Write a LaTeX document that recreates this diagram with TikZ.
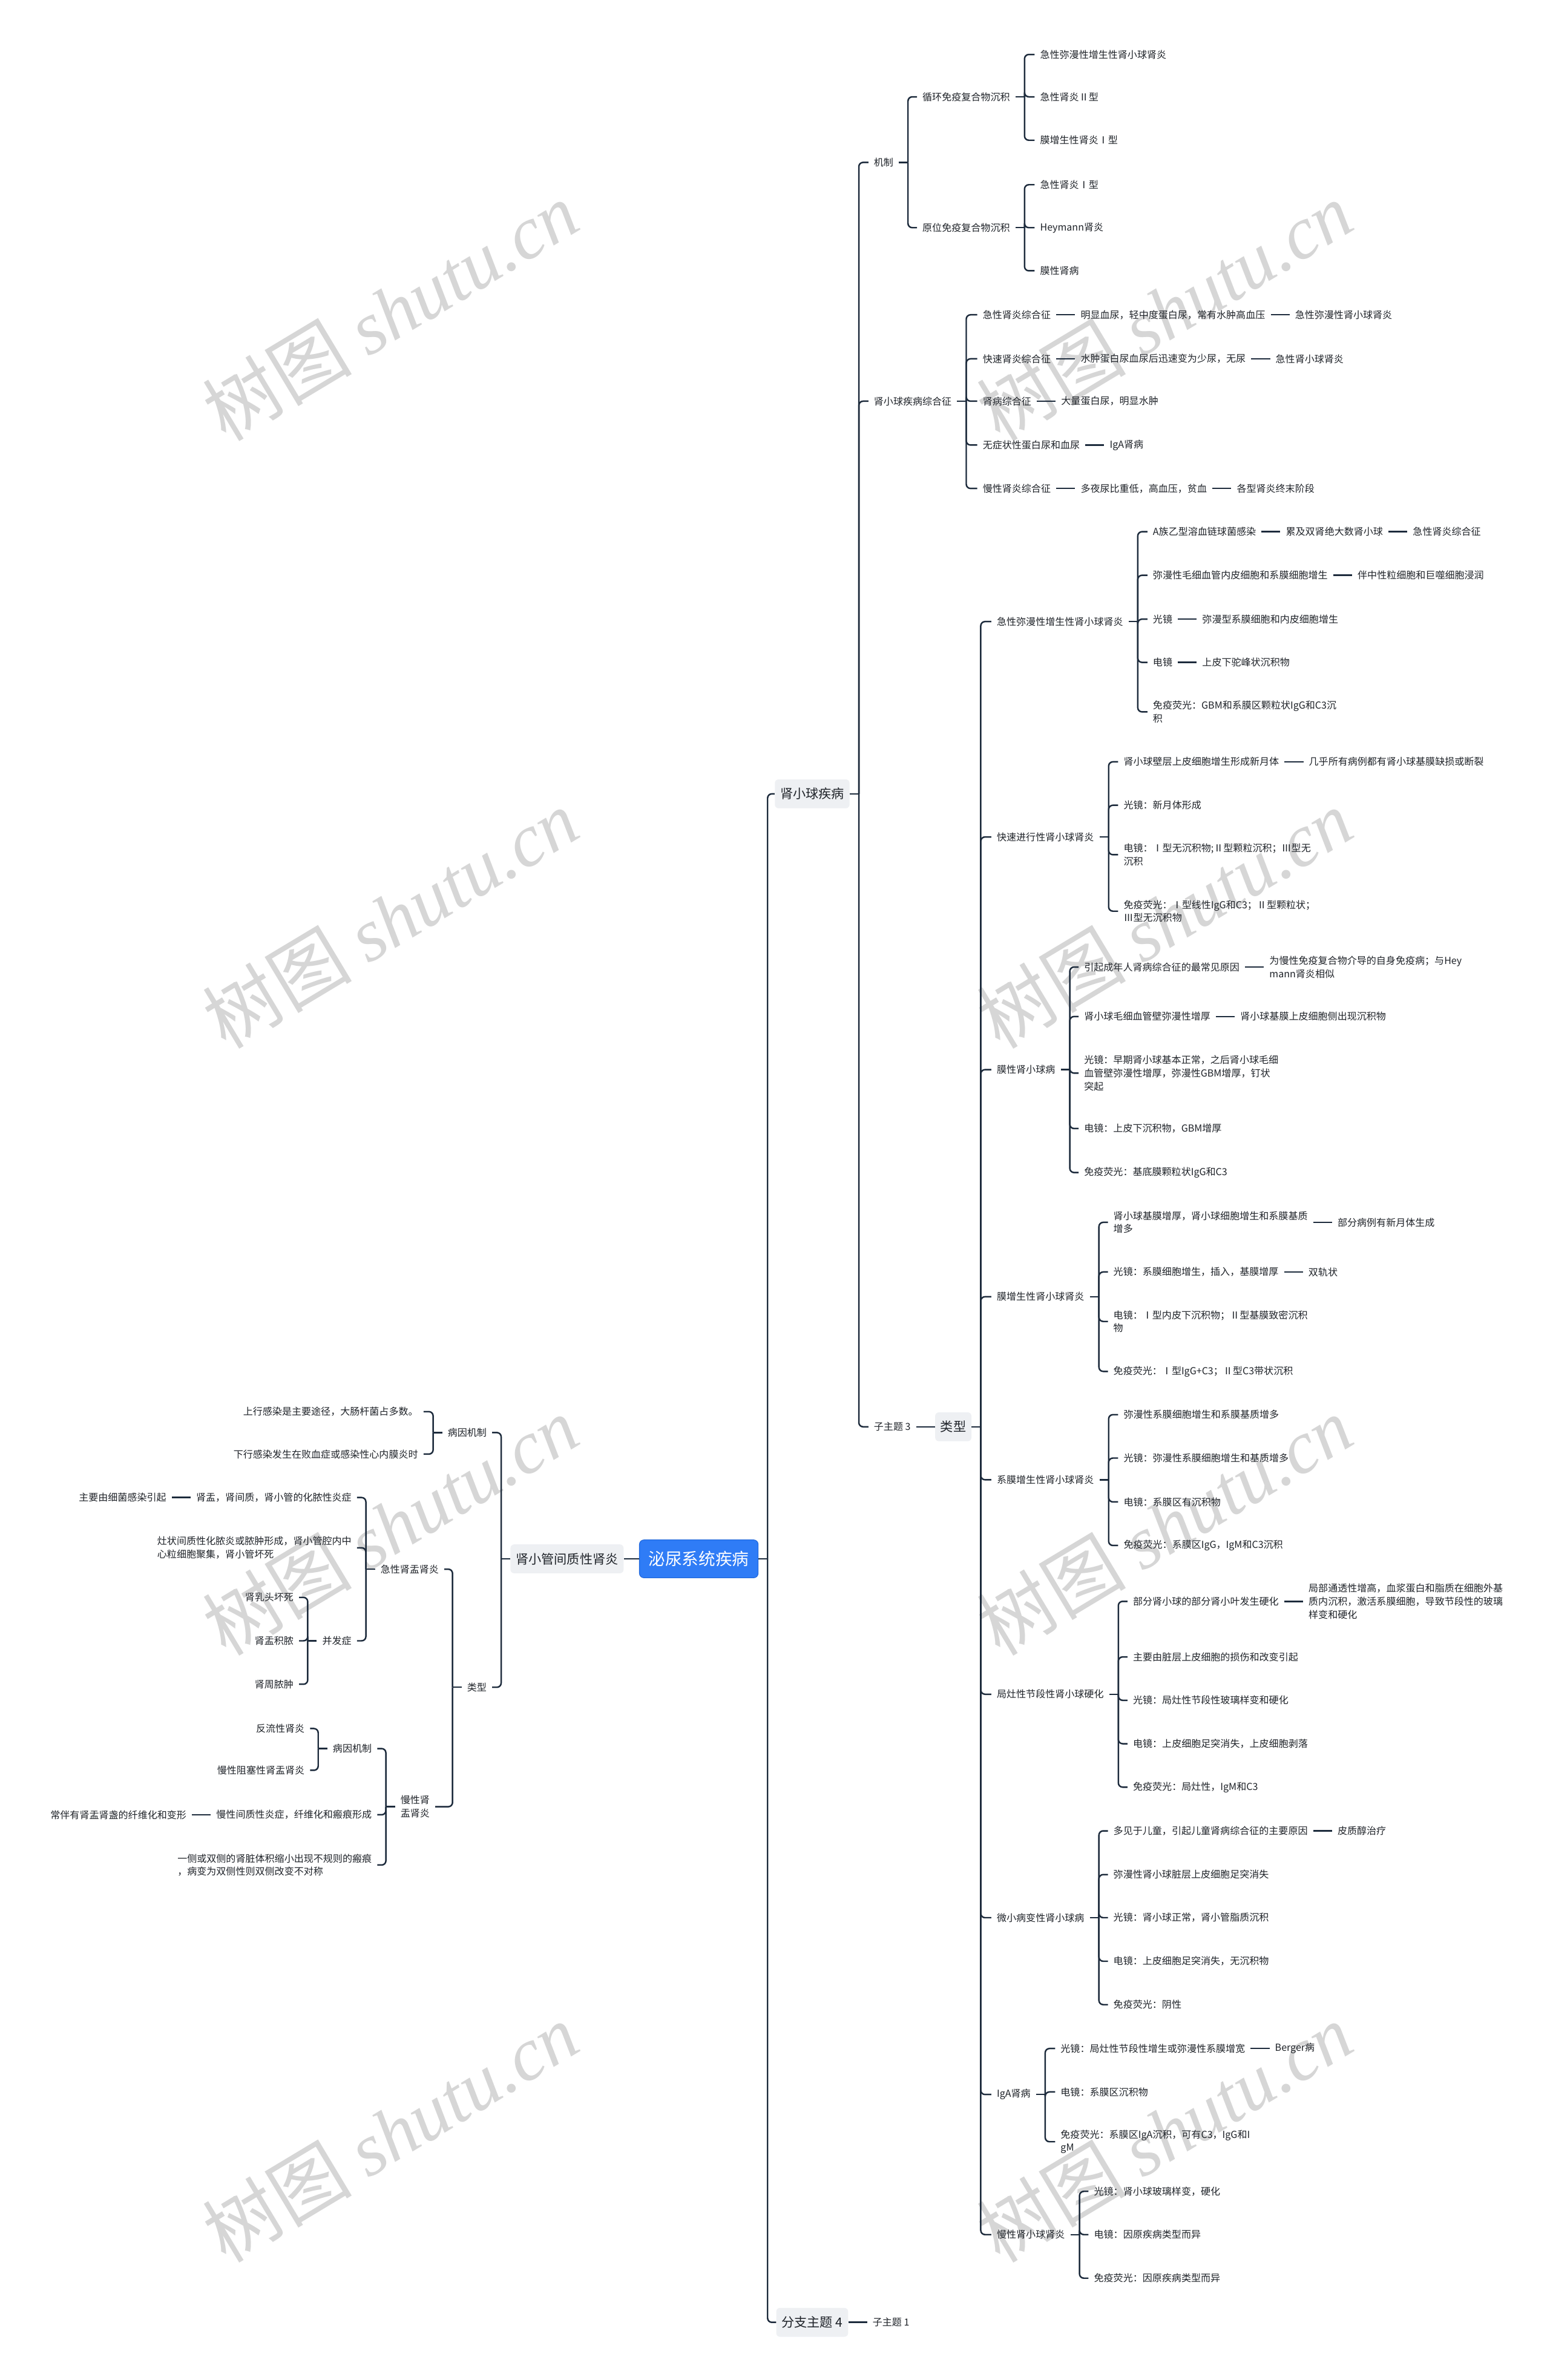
\documentclass[tikz,border=0pt]{standalone}
\usepackage{fontspec}
\setmainfont{Noto Sans CJK SC}
\newfontfamily\stampserif{Liberation Serif}
\usepackage{xcolor}
\usepackage{tikz}
\usetikzlibrary{positioning,calc}
\definecolor{Ink}{HTML}{1F2329}
\definecolor{Line}{HTML}{1D2B3C}
\definecolor{BoxGray}{HTML}{EEF0F3}
\definecolor{RootBlue}{HTML}{2F7CF6}
\definecolor{RootEdge}{HTML}{1F66DA}
\definecolor{Stamp}{HTML}{D6D6D6}
\newcommand{\leafsize}{\fontsize{9.1pt}{12.3pt}\selectfont}
\newcommand{\boxsize}{\fontsize{12pt}{14pt}\selectfont}
\newcommand{\rootsize}{\fontsize{15.7pt}{18pt}\selectfont}
\newcommand{\stampsize}{\fontsize{70pt}{70pt}\selectfont}
\tikzset{
  leaf/.style={font=\leafsize,text=Ink,inner xsep=5pt,inner ysep=2pt,align=left},
  rleaf/.style={leaf,anchor=west},
  lleaf/.style={leaf,anchor=east},
  subbox/.style={fill=BoxGray,rounded corners=1.2mm,font=\boxsize,text=Ink,inner xsep=0.175cm,minimum height=0.95cm},
  rootbox/.style={fill=RootBlue,draw=RootEdge,line width=0.6pt,rounded corners=1.5mm,font=\rootsize,text=white,inner xsep=0.3cm,minimum height=1.25cm},
  link/.style={draw=Line,line width=1.4pt},
  stamp/.style={text=Stamp,rotate=31,font=\stampsize}
}
% parent -> children, hooked on a vertical trunk
\newcommand{\forkr}[2]{%
  \draw[link] (#1.east) -- ++(6,0) coordinate (#1-t);
  \foreach \kid in {#2}{\draw[link,rounded corners=4pt] (#1-t) |- (\kid.west);}}
\newcommand{\forkl}[2]{%
  \draw[link] (#1.west) -- ++(-6,0) coordinate (#1-t);
  \foreach \kid in {#2}{\draw[link,rounded corners=4pt] (#1-t) |- (\kid.east);}}

\begin{document}
\begin{tikzpicture}[x=0.05cm,y=-0.05cm]
  \useasboundingbox (0,0) rectangle (1021,1568);
  \fill[white] (0,0) rectangle (1021,1568);
  % watermark
  \foreach \wx/\wy [count=\i] in {257/205,767/205,257/605,767/605,257/1005,767/1005,257/1405,767/1405}
    \node[stamp] (wm\i) at (\wx,\wy) {树图 {\stampserif\itshape shutu.cn}};

  % centre
  \node[rootbox] (root) at (460.3,1027) {泌尿系统疾病};
  \node[subbox] (glom) at (535,523) {肾小球疾病};
  \node[subbox] (br4) at (535,1530) {分支主题 4};
  \node[subbox] (tubint) at (373.5,1027) {肾小管间质性肾炎};
  \draw[link] (root.west) -- (tubint.east);
  \forkr{root}{glom,br4}
  \node[rleaf,right=0.62cm of br4] (sub1) {子主题 1};

  % glomerular diseases
  \node[rleaf] (mech) at (572,107) {机制};
  \node[rleaf] (synd) at (572,264.3) {肾小球疾病综合征};
  \node[rleaf] (sub3) at (572,940) {子主题 3};
  \forkr{glom}{mech,synd,sub3}
  \node[subbox,right=0.62cm of sub3] (kind) {类型};

  \node[rleaf] (circ) at (604,63.8) {循环免疫复合物沉积};
  \node[rleaf] (insitu) at (604,150) {原位免疫复合物沉积};
  \forkr{mech}{circ,insitu}
  \node[rleaf] (c1) at (681.5,35.9) {急性弥漫性增生性肾小球肾炎};
  \node[rleaf] (c2) at (681.5,63.8) {急性肾炎Ⅱ型};
  \node[rleaf] (c3) at (681.5,92.4) {膜增生性肾炎Ⅰ型};
  \forkr{circ}{c1,c2,c3}
  \node[rleaf] (i1) at (681.5,121.7) {急性肾炎Ⅰ型};
  \node[rleaf] (i2) at (681.5,150) {Heymann肾炎};
  \node[rleaf] (i3) at (681.5,178.4) {膜性肾病};
  \forkr{insitu}{i1,i2,i3}

  \node[rleaf] (s1) at (643.7,207.4) {急性肾炎综合征};
  \node[rleaf] (s2) at (643.7,236.4) {快速肾炎综合征};
  \node[rleaf] (s3) at (643.7,264.3) {肾病综合征};
  \node[rleaf] (s4) at (643.7,293.2) {无症状性蛋白尿和血尿};
  \node[rleaf] (s5) at (643.7,321.8) {慢性肾炎综合征};
  \forkr{synd}{s1,s2,s3,s4,s5}
  \node[rleaf,right=0.62cm of s1] (s1a) {明显血尿，轻中度蛋白尿，常有水肿高血压};
  \node[rleaf,right=0.62cm of s1a] (s1b) {急性弥漫性肾小球肾炎};
  \node[rleaf,right=0.62cm of s2] (s2a) {水肿蛋白尿血尿后迅速变为少尿，无尿};
  \node[rleaf,right=0.62cm of s2a] (s2b) {急性肾小球肾炎};
  \node[rleaf,right=0.62cm of s3] (s3a) {大量蛋白尿，明显水肿};
  \node[rleaf,right=0.62cm of s4] (s4a) {IgA肾病};
  \node[rleaf,right=0.62cm of s5] (s5a) {多夜尿比重低，高血压，贫血};
  \node[rleaf,right=0.62cm of s5a] (s5b) {各型肾炎终末阶段};

  % types
  \node[rleaf] (t1) at (653,409.5) {急性弥漫性增生性肾小球肾炎};
  \node[rleaf] (t2) at (653,551.4) {快速进行性肾小球肾炎};
  \node[rleaf] (t3) at (653,704.7) {膜性肾小球病};
  \node[rleaf] (t4) at (653,854.3) {膜增生性肾小球肾炎};
  \node[rleaf] (t5) at (653,974.9) {系膜增生性肾小球肾炎};
  \node[rleaf] (t6) at (653,1116.2) {局灶性节段性肾小球硬化};
  \node[rleaf] (t7) at (653,1263.4) {微小病变性肾小球病};
  \node[rleaf] (t8) at (653,1379.9) {IgA肾病};
  \node[rleaf] (t9) at (653,1472.2) {慢性肾小球肾炎};
  \forkr{kind}{t1,t2,t3,t4,t5,t6,t7,t8,t9}

  \node[rleaf] (a1) at (755.8,350.3) {A族乙型溶血链球菌感染};
  \node[rleaf] (a2) at (755.8,379) {弥漫性毛细血管内皮细胞和系膜细胞增生};
  \node[rleaf] (a3) at (755.8,407.9) {光镜};
  \node[rleaf] (a4) at (755.8,436.4) {电镜};
  \node[rleaf] (a5) at (755.8,469) {免疫荧光：GBM和系膜区颗粒状IgG和C3沉\\积};
  \forkr{t1}{a1,a2,a3,a4,a5}
  \node[rleaf,right=0.62cm of a1] (a1x) {累及双肾绝大数肾小球};
  \node[rleaf,right=0.62cm of a1x] (a1y) {急性肾炎综合征};
  \node[rleaf,right=0.62cm of a2] (a2x) {伴中性粒细胞和巨噬细胞浸润};
  \node[rleaf,right=0.62cm of a3] (a3x) {弥漫型系膜细胞和内皮细胞增生};
  \node[rleaf,right=0.62cm of a4] (a4x) {上皮下驼峰状沉积物};

  \node[rleaf] (b1) at (736.5,501.9) {肾小球壁层上皮细胞增生形成新月体};
  \node[rleaf] (b2) at (736.5,530.5) {光镜：新月体形成};
  \node[rleaf] (b3) at (736.5,563.1) {电镜：Ⅰ型无沉积物;Ⅱ型颗粒沉积；Ⅲ型无\\沉积};
  \node[rleaf] (b4) at (736.5,600.3) {免疫荧光：Ⅰ型线性IgG和C3；Ⅱ型颗粒状；\\Ⅲ型无沉积物};
  \forkr{t2}{b1,b2,b3,b4}
  \node[rleaf,right=0.62cm of b1] (b1x) {几乎所有病例都有肾小球基膜缺损或断裂};

  \node[rleaf] (d1) at (710.5,637.1) {引起成年人肾病综合征的最常见原因};
  \node[rleaf] (d2) at (710.5,669.7) {肾小球毛细血管壁弥漫性增厚};
  \node[rleaf] (d3) at (710.5,707) {光镜：早期肾小球基本正常，之后肾小球毛细\\血管壁弥漫性增厚，弥漫性GBM增厚，钉状\\突起};
  \node[rleaf] (d4) at (710.5,743.5) {电镜：上皮下沉积物，GBM增厚};
  \node[rleaf] (d5) at (710.5,772.5) {免疫荧光：基底膜颗粒状IgG和C3};
  \forkr{t3}{d1,d2,d3,d4,d5}
  \node[rleaf,right=0.62cm of d1] (d1x) {为慢性免疫复合物介导的自身免疫病；与Hey\\mann肾炎相似};
  \node[rleaf,right=0.62cm of d2] (d2x) {肾小球基膜上皮细胞侧出现沉积物};

  \node[rleaf] (e1) at (729.8,805.3) {肾小球基膜增厚，肾小球细胞增生和系膜基质\\增多};
  \node[rleaf] (e2) at (729.8,838) {光镜：系膜细胞增生，插入，基膜增厚};
  \node[rleaf] (e3) at (729.8,870.6) {电镜：Ⅰ型内皮下沉积物；Ⅱ型基膜致密沉积\\物};
  \node[rleaf] (e4) at (729.8,903.5) {免疫荧光：Ⅰ型IgG+C3；Ⅱ型C3带状沉积};
  \forkr{t4}{e1,e2,e3,e4}
  \node[rleaf,right=0.62cm of e1] (e1x) {部分病例有新月体生成};
  \node[rleaf,right=0.62cm of e2] (e2x) {双轨状};

  \node[rleaf] (f1) at (736.5,932) {弥漫性系膜细胞增生和系膜基质增多};
  \node[rleaf] (f2) at (736.5,960.6) {光镜：弥漫性系膜细胞增生和基质增多};
  \node[rleaf] (f3) at (736.5,989.5) {电镜：系膜区有沉积物};
  \node[rleaf] (f4) at (736.5,1018.2) {免疫荧光：系膜区IgG，IgM和C3沉积};
  \forkr{t5}{f1,f2,f3,f4}

  \node[rleaf] (g1) at (742.7,1055) {部分肾小球的部分肾小叶发生硬化};
  \node[rleaf] (g2) at (742.7,1091.6) {主要由脏层上皮细胞的损伤和改变引起};
  \node[rleaf] (g3) at (742.7,1120.2) {光镜：局灶性节段性玻璃样变和硬化};
  \node[rleaf] (g4) at (742.7,1148.8) {电镜：上皮细胞足突消失，上皮细胞剥落};
  \node[rleaf] (g5) at (742.7,1177.4) {免疫荧光：局灶性，IgM和C3};
  \forkr{t6}{g1,g2,g3,g4,g5}
  \node[rleaf,right=0.62cm of g1] (g1x) {局部通透性增高，血浆蛋白和脂质在细胞外基\\质内沉积，激活系膜细胞，导致节段性的玻璃\\样变和硬化};

  \node[rleaf] (h1) at (729.8,1206.2) {多见于儿童，引起儿童肾病综合征的主要原因};
  \node[rleaf] (h2) at (729.8,1235) {弥漫性肾小球脏层上皮细胞足突消失};
  \node[rleaf] (h3) at (729.8,1263.4) {光镜：肾小球正常，肾小管脂质沉积};
  \node[rleaf] (h4) at (729.8,1292.1) {电镜：上皮细胞足突消失，无沉积物};
  \node[rleaf] (h5) at (729.8,1320.7) {免疫荧光：阴性};
  \forkr{t7}{h1,h2,h3,h4,h5}
  \node[rleaf,right=0.62cm of h1] (h1x) {皮质醇治疗};

  \node[rleaf] (k1) at (695,1349.6) {光镜：局灶性节段性增生或弥漫性系膜增宽};
  \node[rleaf] (k2) at (695,1378.2) {电镜：系膜区沉积物};
  \node[rleaf] (k3) at (695,1411) {免疫荧光：系膜区IgA沉积，可有C3，IgG和I\\gM};
  \forkr{t8}{k1,k2,k3}
  \node[rleaf,right=0.62cm of k1] (k1x) {Berger病};

  \node[rleaf] (n1) at (717,1443.7) {光镜：肾小球玻璃样变，硬化};
  \node[rleaf] (n2) at (717,1472.2) {电镜：因原疾病类型而异};
  \node[rleaf] (n3) at (717,1500.9) {免疫荧光：因原疾病类型而异};
  \forkr{t9}{n1,n2,n3}

  % tubulointerstitial nephritis
  \node[lleaf] (p1) at (324.2,943.8) {病因机制};
  \node[lleaf] (p2) at (324.2,1111.6) {类型};
  \forkl{tubint}{p1,p2}
  \node[lleaf] (q1) at (279,930) {上行感染是主要途径，大肠杆菌占多数。};
  \node[lleaf] (q2) at (279,958) {下行感染发生在败血症或感染性心内膜炎时};
  \forkl{p1}{q1,q2}
  \node[lleaf] (r1) at (292.7,1033.8) {急性肾盂肾炎};
  \node[lleaf] (r2) at (286.7,1190.3) {慢性肾\\盂肾炎};
  \forkl{p2}{r1,r2}

  \node[lleaf] (u1) at (235.2,986.6) {肾盂，肾间质，肾小管的化脓性炎症};
  \node[lleaf] (u2) at (235.2,1019.7) {灶状间质性化脓炎或脓肿形成，肾小管腔内中\\心粒细胞聚集，肾小管坏死};
  \node[lleaf] (u3) at (235.2,1081) {并发症};
  \forkl{r1}{u1,u2,u3}
  \node[lleaf,left=0.62cm of u1] (u1x) {主要由细菌感染引起};
  \node[lleaf] (v1) at (197,1052.4) {肾乳头坏死};
  \node[lleaf] (v2) at (197,1081) {肾盂积脓};
  \node[lleaf] (v3) at (197,1109.6) {肾周脓肿};
  \forkl{u3}{v1,v2,v3}

  \node[lleaf] (w1) at (248.5,1152) {病因机制};
  \node[lleaf] (w2) at (248.5,1195.6) {慢性间质性炎症，纤维化和瘢痕形成};
  \node[lleaf] (w3) at (248.5,1228.7) {一侧或双侧的肾脏体积缩小出现不规则的瘢痕\\，病变为双侧性则双侧改变不对称};
  \forkl{r2}{w1,w2,w3}
  \node[lleaf,left=0.62cm of w2] (w2x) {常伴有肾盂肾盏的纤维化和变形};
  \node[lleaf] (x1) at (204.3,1138.8) {反流性肾炎};
  \node[lleaf] (x2) at (204.3,1166.3) {慢性阻塞性肾盂肾炎};
  \forkl{w1}{x1,x2}

  % straight joins
  \foreach \a/\b in {br4/sub1,sub3/kind,s1/s1a,s1a/s1b,s2/s2a,s2a/s2b,s3/s3a,s4/s4a,s5/s5a,s5a/s5b,
      a1/a1x,a1x/a1y,a2/a2x,a3/a3x,a4/a4x,b1/b1x,d1/d1x,d2/d2x,e1/e1x,e2/e2x,g1/g1x,h1/h1x,k1/k1x}
    \draw[link] (\a.east) -- (\b.west);
  \foreach \a/\b in {u1/u1x,w2/w2x}
    \draw[link] (\a.west) -- (\b.east);
\end{tikzpicture}
\end{document}
